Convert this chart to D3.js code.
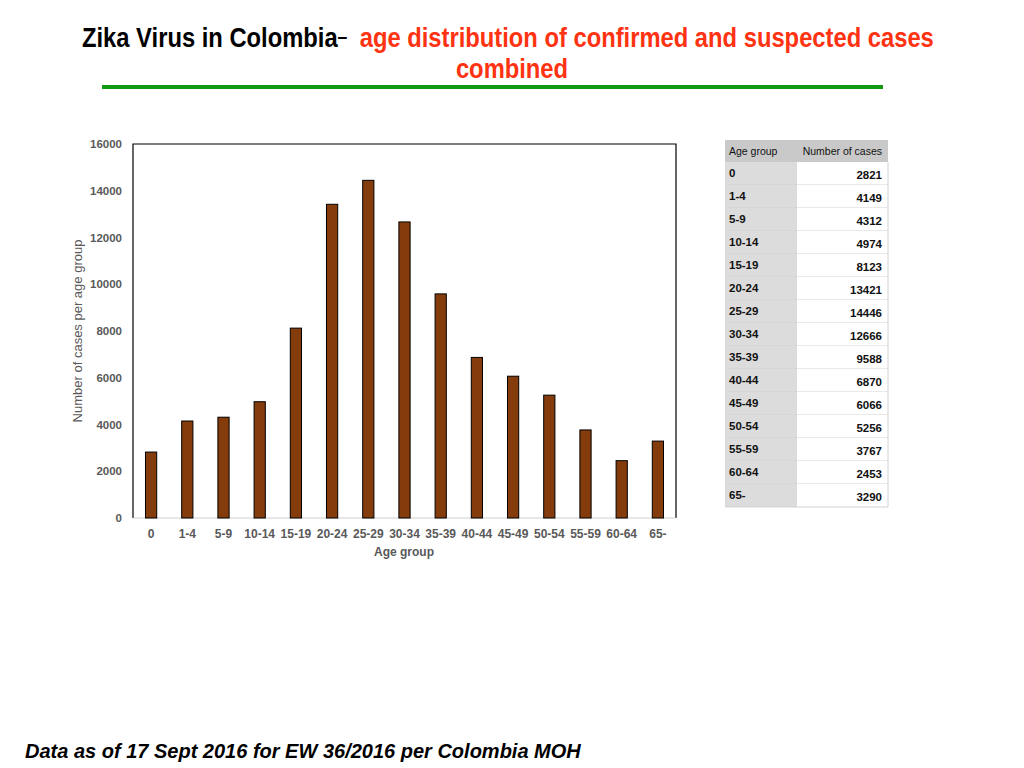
<!DOCTYPE html>
<html>
<head>
<meta charset="utf-8">
<script src="https://cdn.jsdelivr.net/npm/d3@7"></script>
<style>
  body { margin: 0; background: #fff; }
  svg { display: block; }
</style>
</head>
<body>
<svg id="chart" width="1024" height="768"></svg>
<script>
// data
var ageGroups = ["0", "1-4", "5-9", "10-14", "15-19", "20-24", "25-29", "30-34", "35-39", "40-44", "45-49", "50-54", "55-59", "60-64", "65-"];
var cases = [2821, 4149, 4312, 4974, 8123, 13421, 14446, 12666, 9588, 6870, 6066, 5256, 3767, 2453, 3290];
var yTicks = [0, 2000, 4000, 6000, 8000, 10000, 12000, 14000, 16000];

var svg = d3.select("#chart");
var sans = "Liberation Sans, Arial, Helvetica, sans-serif";

// Titel (schmal gestaucht wie Arial Narrow)
var title = svg.append("text")
    .attr("transform", "translate(82,47) scale(0.88,1)")
    .style("font-family", sans).style("font-size", "27px").style("font-weight", "bold");
title.append("tspan").attr("fill", "#000").text("Zika Virus in Colombia");
title.append("tspan").attr("fill", "#000").attr("dy", -4).style("font-size", "20px").text("\u2013");
title.append("tspan").attr("fill", "#ff3311").attr("dx", 14).attr("dy", 4).text("age  distribution of confirmed and suspected cases");

svg.append("text")
    .attr("transform", "translate(512,78) scale(0.88,1)")
    .attr("text-anchor", "middle")
    .attr("fill", "#ff3311")
    .style("font-family", sans).style("font-size", "27px").style("font-weight", "bold")
    .text("combined");

svg.append("line")
    .attr("x1", 102).attr("x2", 883).attr("y1", 87).attr("y2", 87)
    .attr("stroke", "#129a12").attr("stroke-width", 4);

// Plotbereich
var pLeft = 133, pRight = 676, pTop = 144, pBottom = 518;

var x = d3.scaleBand().domain(ageGroups).range([pLeft, pRight]).paddingInner(0.69).paddingOuter(0.345);
var y = d3.scaleLinear().domain([0, 16000]).range([pBottom, pTop]);

// Rahmen
svg.append("path")
    .attr("d", "M" + pLeft + "," + pBottom + "V" + pTop + "H" + pRight + "V" + pBottom)
    .attr("fill", "none").attr("stroke", "#000").attr("stroke-width", 1.2);
svg.append("line")
    .attr("x1", pLeft).attr("x2", pRight).attr("y1", pBottom).attr("y2", pBottom)
    .attr("stroke", "#d0d0d0").attr("stroke-width", 1.2);

// Balken
svg.selectAll("rect.bar")
    .data(cases)
    .enter().append("rect")
    .attr("class", "bar")
    .attr("x", function(d, i) { return x(ageGroups[i]); })
    .attr("y", function(d) { return y(d); })
    .attr("width", x.bandwidth())
    .attr("height", function(d) { return pBottom - y(d); })
    .attr("fill", "#843c0c")
    .attr("stroke", "#000").attr("stroke-width", 1);

// y Achse
var yAxis = svg.append("g")
    .attr("transform", "translate(" + pLeft + ",0)")
    .call(d3.axisLeft(y).tickValues(yTicks).tickSize(0).tickPadding(11).tickFormat(d3.format("d")));
yAxis.select(".domain").remove();
yAxis.selectAll("text")
    .attr("fill", "#595959")
    .style("font-family", sans).style("font-size", "11.5px").style("font-weight", "bold");

// x Achse
var xAxis = svg.append("g")
    .attr("transform", "translate(0," + pBottom + ")")
    .call(d3.axisBottom(x).tickSize(0).tickPadding(11));
xAxis.select(".domain").remove();
xAxis.selectAll("text")
    .attr("fill", "#595959")
    .style("font-family", sans).style("font-size", "12px").style("font-weight", "bold");

svg.append("text")
    .attr("x", 404).attr("y", 556)
    .attr("text-anchor", "middle").attr("fill", "#595959")
    .style("font-family", sans).style("font-size", "12px").style("font-weight", "bold")
    .text("Age group");

svg.append("text")
    .attr("transform", "translate(82,331) rotate(-90)")
    .attr("text-anchor", "middle").attr("fill", "#595959")
    .style("font-family", sans).style("font-size", "13px")
    .text("Number  of cases per age group");

// Tabelle
var tx = 725, tc = 797, tr = 888, ty = 140, hh = 22, rh = 23;
var tab = svg.append("g");
tab.append("rect").attr("x", tx).attr("y", ty).attr("width", tr - tx).attr("height", hh).attr("fill", "#c9c9c9");
tab.append("text").attr("x", tx + 4).attr("y", ty + 15)
    .style("font-family", sans).style("font-size", "10.5px").attr("fill", "#111").text("Age group");
tab.append("text").attr("x", tr - 6).attr("y", ty + 15).attr("text-anchor", "end")
    .style("font-family", sans).style("font-size", "10.5px").attr("fill", "#111").text("Number of cases");

var rows = tab.selectAll("g.row")
    .data(cases)
    .enter().append("g")
    .attr("class", "row")
    .attr("transform", function(d, i) { return "translate(0," + (ty + hh + i * rh) + ")"; });
rows.append("rect").attr("x", tx).attr("width", tc - tx).attr("height", rh).attr("fill", "#dcdcdc");
rows.append("rect").attr("x", tc).attr("width", tr - tc).attr("height", rh).attr("fill", "#fff");
rows.append("line").attr("x1", tx).attr("x2", tr).attr("y1", rh).attr("y2", rh)
    .attr("stroke", "#d2d2d2").attr("stroke-width", 1);
rows.append("text").attr("x", tx + 4).attr("y", 15)
    .style("font-family", sans).style("font-size", "11.5px").style("font-weight", "bold").attr("fill", "#111")
    .text(function(d, i) { return ageGroups[i]; });
rows.append("text").attr("x", tr - 6).attr("y", 17).attr("text-anchor", "end")
    .style("font-family", sans).style("font-size", "11.5px").style("font-weight", "bold").attr("fill", "#111")
    .text(function(d) { return d; });
tab.append("line").attr("x1", tr).attr("x2", tr).attr("y1", ty + hh).attr("y2", ty + hh + cases.length * rh)
    .attr("stroke", "#d2d2d2");

// Fussnote
svg.append("text")
    .attr("x", 25).attr("y", 758)
    .style("font-family", sans).style("font-size", "20px").style("font-weight", "bold").style("font-style", "italic")
    .attr("fill", "#000")
    .text("Data as of 17 Sept 2016 for EW 36/2016 per Colombia MOH");
</script>
</body>
</html>
